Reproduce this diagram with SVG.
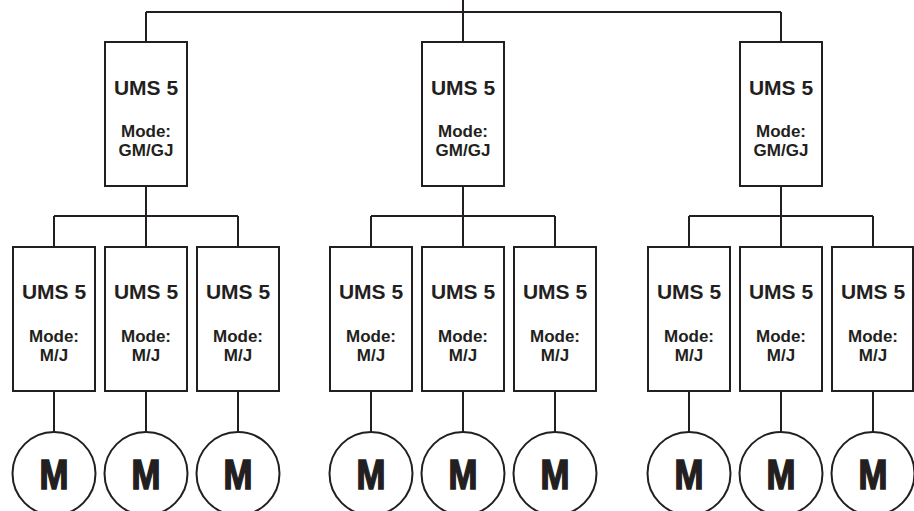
<svg xmlns="http://www.w3.org/2000/svg" width="914" height="511" viewBox="0 0 914 511">
<style>
.box{fill:#fff;stroke:#231f20;stroke-width:2}
.ln{fill:none;stroke:#231f20;stroke-width:2}
text{font-family:"Liberation Sans",Arial,sans-serif;font-weight:bold;fill:#231f20;text-anchor:middle}
.t1{font-size:21px}
.t2{font-size:17px}
.tm{font-size:42px;stroke:#231f20;stroke-width:1.6;stroke-linejoin:miter}
</style>
<rect width="914" height="511" fill="#fff"/>
<g id="connectors" class="ln">
<path d="M463 0V12M146 12H781M146 12V42M463 12V42M781 12V42"/>
<path d="M146 186V216M54 216H238M54 216V247M146 216V247M238 216V247"/>
<path d="M463 186V216M371 216H555M371 216V247M463 216V247M555 216V247"/>
<path d="M781 186V216M689 216H873M689 216V247M781 216V247M873 216V247"/>
<path d="M54 391V432M146 391V432M238 391V432M371 391V432M463 391V432M555 391V432M689 391V432M781 391V432M873 391V432"/>
</g>
<g id="top1"><rect class="box" x="105" y="42" width="82" height="144"/><text class="t1" x="146" y="95">UMS 5</text><text class="t2" x="146" y="137">Mode:</text><text class="t2" x="146" y="156">GM/GJ</text></g>
<g id="top2"><rect class="box" x="422" y="42" width="82" height="144"/><text class="t1" x="463" y="95">UMS 5</text><text class="t2" x="463" y="137">Mode:</text><text class="t2" x="463" y="156">GM/GJ</text></g>
<g id="top3"><rect class="box" x="740" y="42" width="82" height="144"/><text class="t1" x="781" y="95">UMS 5</text><text class="t2" x="781" y="137">Mode:</text><text class="t2" x="781" y="156">GM/GJ</text></g>
<g id="u1"><rect class="box" x="13" y="247" width="82" height="144"/><text class="t1" x="54" y="299">UMS 5</text><text class="t2" x="54" y="342">Mode:</text><text class="t2" x="54" y="361">M/J</text></g>
<g id="u2"><rect class="box" x="105" y="247" width="82" height="144"/><text class="t1" x="146" y="299">UMS 5</text><text class="t2" x="146" y="342">Mode:</text><text class="t2" x="146" y="361">M/J</text></g>
<g id="u3"><rect class="box" x="197" y="247" width="82" height="144"/><text class="t1" x="238" y="299">UMS 5</text><text class="t2" x="238" y="342">Mode:</text><text class="t2" x="238" y="361">M/J</text></g>
<g id="u4"><rect class="box" x="330" y="247" width="82" height="144"/><text class="t1" x="371" y="299">UMS 5</text><text class="t2" x="371" y="342">Mode:</text><text class="t2" x="371" y="361">M/J</text></g>
<g id="u5"><rect class="box" x="422" y="247" width="82" height="144"/><text class="t1" x="463" y="299">UMS 5</text><text class="t2" x="463" y="342">Mode:</text><text class="t2" x="463" y="361">M/J</text></g>
<g id="u6"><rect class="box" x="514" y="247" width="82" height="144"/><text class="t1" x="555" y="299">UMS 5</text><text class="t2" x="555" y="342">Mode:</text><text class="t2" x="555" y="361">M/J</text></g>
<g id="u7"><rect class="box" x="648" y="247" width="82" height="144"/><text class="t1" x="689" y="299">UMS 5</text><text class="t2" x="689" y="342">Mode:</text><text class="t2" x="689" y="361">M/J</text></g>
<g id="u8"><rect class="box" x="740" y="247" width="82" height="144"/><text class="t1" x="781" y="299">UMS 5</text><text class="t2" x="781" y="342">Mode:</text><text class="t2" x="781" y="361">M/J</text></g>
<g id="u9"><rect class="box" x="832" y="247" width="81" height="144"/><text class="t1" x="873" y="299">UMS 5</text><text class="t2" x="873" y="342">Mode:</text><text class="t2" x="873" y="361">M/J</text></g>
<g id="m1"><circle class="box" cx="54" cy="473.5" r="41.5"/><text class="tm" x="54" y="488.5" textLength="29" lengthAdjust="spacingAndGlyphs">M</text></g>
<g id="m2"><circle class="box" cx="146" cy="473.5" r="41.5"/><text class="tm" x="146" y="488.5" textLength="29" lengthAdjust="spacingAndGlyphs">M</text></g>
<g id="m3"><circle class="box" cx="238" cy="473.5" r="41.5"/><text class="tm" x="238" y="488.5" textLength="29" lengthAdjust="spacingAndGlyphs">M</text></g>
<g id="m4"><circle class="box" cx="371" cy="473.5" r="41.5"/><text class="tm" x="371" y="488.5" textLength="29" lengthAdjust="spacingAndGlyphs">M</text></g>
<g id="m5"><circle class="box" cx="463" cy="473.5" r="41.5"/><text class="tm" x="463" y="488.5" textLength="29" lengthAdjust="spacingAndGlyphs">M</text></g>
<g id="m6"><circle class="box" cx="555" cy="473.5" r="41.5"/><text class="tm" x="555" y="488.5" textLength="29" lengthAdjust="spacingAndGlyphs">M</text></g>
<g id="m7"><circle class="box" cx="689" cy="473.5" r="41.5"/><text class="tm" x="689" y="488.5" textLength="29" lengthAdjust="spacingAndGlyphs">M</text></g>
<g id="m8"><circle class="box" cx="781" cy="473.5" r="41.5"/><text class="tm" x="781" y="488.5" textLength="29" lengthAdjust="spacingAndGlyphs">M</text></g>
<g id="m9"><circle class="box" cx="873" cy="473.5" r="41.5"/><text class="tm" x="873" y="488.5" textLength="29" lengthAdjust="spacingAndGlyphs">M</text></g>
</svg>
